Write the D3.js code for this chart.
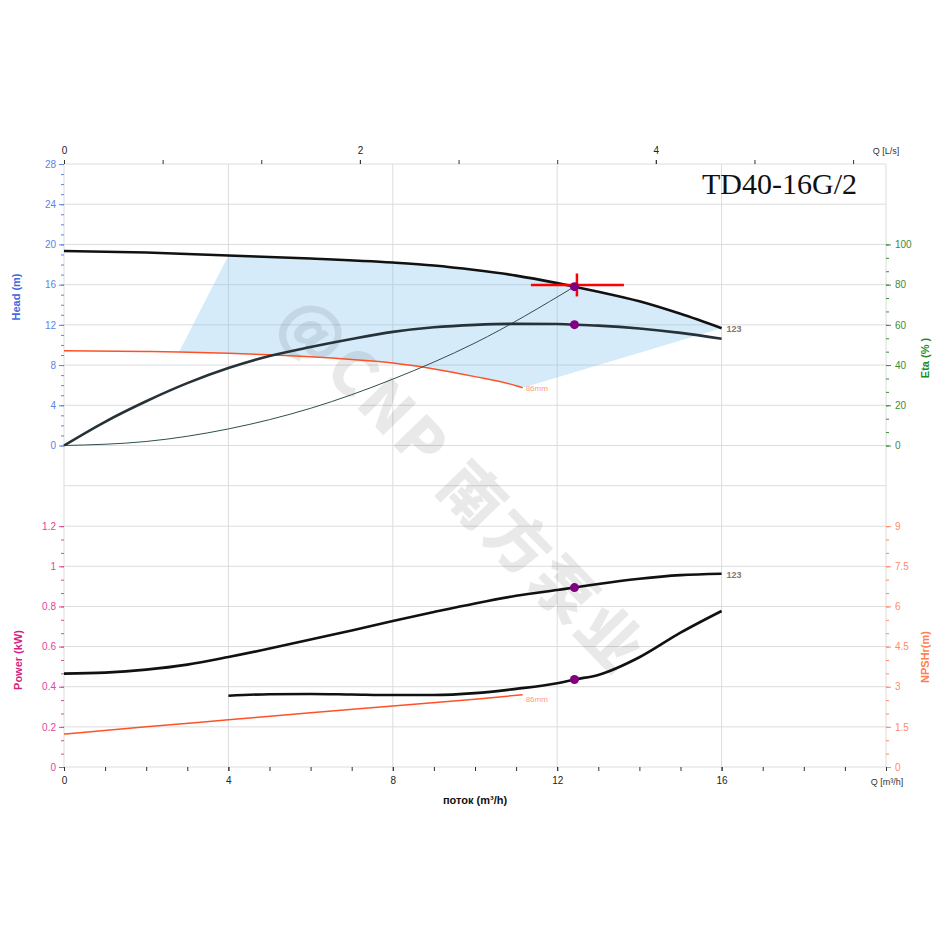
<!DOCTYPE html>
<html><head><meta charset="utf-8">
<script src="https://cdn.jsdelivr.net/npm/d3@7"></script>
<style>body{margin:0;background:#fff}svg{display:block}text{font-family:"Liberation Sans",Arial,sans-serif}</style>
</head><body><svg id="c" width="950" height="950"></svg>
<script>
// ---------- data ----------
const headQ = [0, 2, 4, 6, 8, 9, 10, 11, 12, 12.42, 13, 14, 15, 16];
const headH = [19.35, 19.2, 18.9, 18.6, 18.2, 17.9, 17.45, 16.9, 16.15, 15.8, 15.3, 14.35, 13.1, 11.67];
const etaQ = [0, 1, 2, 3, 4, 5, 6, 7, 8, 9, 10, 11, 12, 12.42, 13, 14, 15, 16];
const etaV = [0, 11.8, 22, 31, 38.5, 44.5, 49, 53, 56.5, 58.8, 60, 60.5, 60.4, 60.1, 59.6, 58.2, 56, 53.1];
const powQ = [0, 1, 2, 3, 4, 5, 6, 7, 8, 9, 10, 11, 12, 12.42, 13, 14, 15, 16];
const powV = [0.465, 0.47, 0.485, 0.51, 0.548, 0.59, 0.635, 0.68, 0.727, 0.772, 0.815, 0.853, 0.882, 0.894, 0.912, 0.938, 0.956, 0.963];
const npshQ = [4, 5, 6, 7, 8, 9, 10, 11, 12, 12.42, 13, 14, 15, 16];
const npshV = [2.66, 2.72, 2.73, 2.71, 2.69, 2.69, 2.76, 2.92, 3.13, 3.27, 3.44, 4.1, 5.02, 5.83];
const minHeadQ = [0, 2, 2.8, 4, 5, 6, 7, 8, 9, 10, 11, 11.16];
const minHeadH = [9.43, 9.35, 9.3, 9.17, 9.02, 8.82, 8.55, 8.2, 7.62, 6.85, 5.95, 5.75];
const minPowQ = [0, 2, 4, 6, 8, 10, 11.16];
const minPowV = [0.164, 0.2, 0.235, 0.27, 0.304, 0.338, 0.36];
const sysQ = [0, 2, 4, 6, 8, 10, 12.42];
const sysH = [0, 0.4, 1.65, 3.7, 6.6, 10.2, 15.8];
const areaStartQ = 4;      // allowable region: max curve from this flow
const areaMinStartQ = 2.8; // allowable region: min curve from this flow
const dutyQ = 12.42, dutyH = 15.8, dutyEta = 60.1, dutyP = 0.894, dutyNpsh = 3.27;
const targetQ = 12.48, targetH = 15.97;
const qTicks = [0, 4, 8, 12, 16];
const lsTicks = [0, 2, 4];
const headTicks = [0, 4, 8, 12, 16, 20, 24, 28];
const etaTicks = [0, 20, 40, 60, 80, 100];
const powTicks = [0, 0.2, 0.4, 0.6, 0.8, 1, 1.2];
const npshTicks = [0, 1.5, 3, 4.5, 6, 7.5, 9];
const chartTitle = "TD40-16G/2";
const curveName = "123", minName = "86mm";

// ---------- scales ----------
const svg = d3.select("#c");
const x = d3.scaleLinear([0, 20], [64, 886]);
const xL = d3.scaleLinear([0, 20 / 3.6], [64, 886]);
const yH = d3.scaleLinear([0, 28], [445.5, 164]);
const yE = d3.scaleLinear([0, 140], [445.5, 164]);
const yP = d3.scaleLinear([0, 1.4], [767, 486]);
const yN = d3.scaleLinear([0, 10.5], [767, 486]);
const zip = (a, b) => a.map((v, i) => [v, b[i]]);

const gridC = "#dcdcdc";
// grid
const g = svg.append("g");
d3.range(-4, 29, 4).forEach(v => g.append("line").attr("x1", 64).attr("x2", 886).attr("y1", yH(v)).attr("y2", yH(v)).attr("stroke", gridC));
powTicks.forEach(v => g.append("line").attr("x1", 64).attr("x2", 886).attr("y1", yP(v)).attr("y2", yP(v)).attr("stroke", gridC));
[0, 4, 8, 12, 16, 20].forEach(v => g.append("line").attr("x1", x(v)).attr("x2", x(v)).attr("y1", 164).attr("y2", 767).attr("stroke", gridC));

// allowable area
const areaTop = zip(headQ, headH).filter(d => d[0] >= areaStartQ);
const areaBot = zip(minHeadQ, minHeadH).filter(d => d[0] >= areaMinStartQ).reverse();
const poly = areaTop.concat(areaBot).map(d => [x(d[0]), yH(d[1])]);
svg.append("path").attr("d", d3.line()(poly) + "Z").attr("fill", "rgba(120,190,240,0.3)");

// watermark
svg.append("text").attr("transform", "translate(466,482) rotate(46)")
  .attr("text-anchor", "middle").attr("dominant-baseline", "central")
  .style("font-family", '"Noto Sans CJK SC","Liberation Sans",sans-serif')
  .style("font-weight", "900").style("font-size", "62px").style("letter-spacing", "4px")
  .attr("fill", "rgba(0,0,0,0.085)").text("@CNP 南方泵业");

// axes helper
function ax(gen, tx, ty, color, size, fmt, vals) {
  const a = svg.append("g").attr("transform", `translate(${tx},${ty})`)
    .call(gen.tickValues(vals).tickSize(size).tickFormat(fmt));
  a.select(".domain").remove();
  a.selectAll("line").attr("stroke", color);
  a.selectAll("text").attr("fill", color).style("font-size", "10px").style("font-family", '"Liberation Sans",Arial,sans-serif');
  return a;
}
const minor = (lo, hi, step) => d3.range(Math.round((hi - lo) / step) + 1).map(i => lo + i * step);

// left head
const headC = "#5b84e6";
ax(d3.axisLeft(yH), 64, 0, headC, 3, "", minor(0, 28, 1));
ax(d3.axisLeft(yH), 64, 0, headC, 5, d3.format("d"), headTicks).selectAll("text").attr("x", -8);
// right eta
const etaC = "#3d8b3d";
ax(d3.axisRight(yE), 886, 0, etaC, 3, "", minor(0, 100, 20 / 3));
ax(d3.axisRight(yE), 886, 0, etaC, 5, d3.format("d"), etaTicks).selectAll("text").attr("x", 9);
// left power
const powC = "#e0469a";
ax(d3.axisLeft(yP), 64, 0, powC, 3, "", minor(0, 1.2, 0.2 / 3));
ax(d3.axisLeft(yP), 64, 0, powC, 5, d => d3.format("~g")(d), powTicks).selectAll("text").attr("x", -8);
// right npsh
const npC = "#ff8a65";
ax(d3.axisRight(yN), 886, 0, npC, 3, "", minor(0, 9, 0.5));
ax(d3.axisRight(yN), 886, 0, npC, 5, d => d3.format("~g")(d), npshTicks).selectAll("text").attr("x", 9);
// bottom
ax(d3.axisBottom(x), 0, 767, "#333", 4, "", d3.range(0, 21, 1));
ax(d3.axisBottom(x), 0, 767, "#333", 4, d3.format("d"), qTicks).selectAll("text").attr("y", 10).attr("fill", "#222");
// top
ax(d3.axisTop(xL), 0, 164, "#333", 4, "", minor(0, 5.34, 2 / 3));
ax(d3.axisTop(xL), 0, 164, "#333", 4, d3.format("d"), lsTicks).selectAll("text").attr("y", -10).attr("fill", "#222");

// axis titles
const T = (txt, tx, ty, rot, color, size, weight, anchor) => svg.append("text")
  .attr("transform", `translate(${tx},${ty}) rotate(${rot})`).attr("text-anchor", anchor || "middle")
  .attr("fill", color).style("font-size", size + "px").style("font-weight", weight || "normal").text(txt);
T("Head (m)", 20, 297, -90, "#4169e1", 11, "bold");
T("Power (kW)", 22, 660, -90, "#d61f84", 11, "bold");
T("Eta (% )", 929, 358, -90, "#228b22", 11, "bold");
T("NPSHr(m)", 929, 657, -90, "#ff7f50", 11, "bold");
T("поток (m³/h)", 475, 804, 0, "#111", 11, "bold");
T("Q [m³/h]", 887, 785, 0, "#333", 9);
T("Q [L/s]", 886, 154, 0, "#333", 9);
svg.append("text").attr("x", 702).attr("y", 194).style("font-family", '"Liberation Serif","Times New Roman",serif')
  .style("font-size", "30px").attr("fill", "#111").text(chartTitle);

// curves
const ln = (sx, sy) => d3.line().x(d => sx(d[0])).y(d => sy(d[1])).curve(d3.curveMonotoneX);
const draw = (data, sy, color, w) => svg.append("path").attr("d", ln(x, sy)(data)).attr("fill", "none").attr("stroke", color).attr("stroke-width", w);
draw(zip(minHeadQ, minHeadH), yH, "#ff5126", 1.5);
draw(zip(minPowQ, minPowV), yP, "#ff5126", 1.5);
draw(zip(sysQ, sysH), yH, "#2f4f4f", 1);
draw(zip(headQ, headH), yH, "#111", 2.6);
draw(zip(etaQ, etaV), yE, "#263238", 2.6);
draw(zip(powQ, powV), yP, "#111", 2.6);
draw(zip(npshQ, npshV), yN, "#111", 2.6);

// curve labels
const lbl = (txt, tx, ty, color, size, weight) => svg.append("text").attr("x", tx).attr("y", ty)
  .attr("fill", color).style("font-size", size + "px").style("font-weight", weight || "normal").text(txt);
lbl(curveName, x(16) + 5, yH(headH[headH.length - 1]) + 4, "#7a7a7a", 9, "bold");
lbl(curveName, x(16) + 5, yP(powV[powV.length - 1]) + 4, "#7a7a7a", 9, "bold");
lbl(minName, x(11.16) + 3, yH(5.75) + 3, "#ff9a80", 8);
lbl(minName, x(11.16) + 3, yP(0.36) + 7, "#ff9a80", 8);

// target crosshair
svg.append("line").attr("x1", x(targetQ) - 46).attr("x2", x(targetQ) + 47).attr("y1", yH(targetH)).attr("y2", yH(targetH)).attr("stroke", "red").attr("stroke-width", 2.5);
svg.append("line").attr("x1", x(targetQ)).attr("x2", x(targetQ)).attr("y1", yH(targetH) - 11.5).attr("y2", yH(targetH) + 11.5).attr("stroke", "red").attr("stroke-width", 2.5);

// duty points
[[dutyH, yH], [dutyEta, yE], [dutyP, yP], [dutyNpsh, yN]].forEach(([v, sy]) =>
  svg.append("circle").attr("cx", x(dutyQ)).attr("cy", sy(v)).attr("r", 4.5).attr("fill", "#800080"));
</script></body></html>
